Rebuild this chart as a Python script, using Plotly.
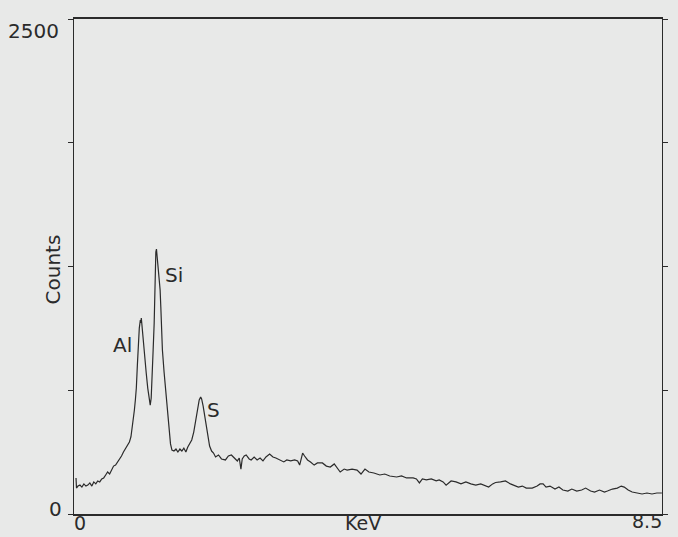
import plotly.graph_objects as go

# EDS spectrum (energy in keV, counts)
energy_kev = [
    0.029, 0.036, 0.057, 0.086, 0.114, 0.143, 0.172, 0.200, 0.229, 0.258,
    0.286, 0.315, 0.343, 0.372, 0.401, 0.429, 0.458, 0.486, 0.515, 0.544,
    0.572, 0.601, 0.629, 0.658, 0.687, 0.715, 0.744, 0.773, 0.801, 0.823,
    0.844, 0.858, 0.873, 0.887, 0.901, 0.916, 0.930, 0.944, 0.959, 0.966,
    0.973, 0.987, 1.001, 1.023, 1.044, 1.066, 1.087, 1.102, 1.116, 1.130,
    1.144, 1.159, 1.166, 1.173, 1.183, 1.192, 1.202, 1.216, 1.230, 1.245,
    1.255, 1.266, 1.278, 1.302, 1.326, 1.352, 1.373, 1.395, 1.416, 1.445,
    1.474, 1.502, 1.531, 1.559, 1.588, 1.617, 1.645, 1.674, 1.702, 1.731,
    1.760, 1.788, 1.810, 1.831, 1.845, 1.867, 1.888, 1.910, 1.931, 1.960,
    1.989, 2.017, 2.046, 2.089, 2.132, 2.189, 2.232, 2.275, 2.318, 2.361,
    2.389, 2.413, 2.432, 2.461, 2.489, 2.532, 2.561, 2.604, 2.647, 2.690,
    2.732, 2.775, 2.828, 2.876, 2.918, 2.947, 2.990, 3.033, 3.076, 3.133,
    3.190, 3.233, 3.262, 3.305, 3.333, 3.376, 3.419, 3.472, 3.519, 3.591,
    3.648, 3.705, 3.762, 3.805, 3.848, 3.906, 3.948, 4.020, 4.092, 4.149,
    4.206, 4.263, 4.335, 4.421, 4.492, 4.564, 4.664, 4.735, 4.807, 4.903,
    4.950, 4.993, 5.036, 5.093, 5.165, 5.236, 5.279, 5.336, 5.379, 5.451,
    5.522, 5.594, 5.665, 5.737, 5.808, 5.880, 5.951, 5.994, 6.052, 6.094,
    6.166, 6.237, 6.309, 6.381, 6.423, 6.481, 6.538, 6.624, 6.695, 6.738,
    6.781, 6.824, 6.881, 6.953, 7.010, 7.067, 7.139, 7.196, 7.268, 7.339,
    7.396, 7.468, 7.525, 7.597, 7.668, 7.711, 7.783, 7.854, 7.911, 7.954,
    8.011, 8.069, 8.140, 8.212, 8.283, 8.355, 8.426, 8.498,
]
counts = [
    182, 131, 141, 146, 136, 152, 141, 146, 157, 141,
    162, 152, 167, 162, 177, 182, 197, 212, 202, 222,
    242, 247, 263, 273, 293, 313, 328, 343, 364, 389,
    439, 475, 525, 576, 636, 752, 869, 939, 980, 965,
    990, 929, 879, 798, 712, 636, 576, 550, 586, 677,
    828, 965, 1081, 1217, 1323, 1338, 1303, 1252, 1212, 1131,
    1045, 929, 828, 717, 611, 505, 409, 354, 323, 318,
    328, 313, 328, 318, 333, 313, 338, 354, 374, 414,
    475, 535, 576, 591, 581, 545, 500, 439, 389, 343,
    318, 308, 288, 298, 278, 273, 293, 298, 283, 268,
    283, 227, 278, 293, 298, 278, 273, 288, 273, 283,
    268, 288, 303, 288, 283, 278, 268, 263, 273, 268,
    273, 268, 247, 308, 293, 273, 263, 247, 258, 258,
    242, 237, 253, 232, 212, 227, 222, 227, 222, 202,
    227, 212, 207, 197, 202, 192, 187, 192, 182, 182,
    177, 157, 177, 172, 177, 167, 172, 162, 146, 167,
    162, 152, 162, 152, 146, 152, 141, 136, 152, 159,
    162, 167, 152, 141, 136, 141, 131, 131, 141, 152,
    152, 136, 141, 126, 136, 121, 116, 126, 116, 121,
    131, 116, 111, 121, 111, 116, 126, 131, 141, 136,
    121, 111, 106, 101, 106, 101, 106, 106,
]

peak_labels = ["Al", "Si", "S"]
peak_label_kev = [0.70, 1.45, 2.01]
peak_label_counts = [855, 1205, 525]

y_ticks = [0, 625, 1250, 1875, 2500]
x_range = [0, 8.5]
y_range = [0, 2500]

ink = "#2b2b2b"
paper = "#e8e9e8"
font_family = "DejaVu Sans"
fs = 20
fs_bottom = 19

fig = go.Figure()
fig.add_trace(go.Scatter(
    x=energy_kev, y=counts, mode="lines",
    line=dict(color=ink, width=1.2), hoverinfo="skip", showlegend=False,
))

annotations = []
for t, xv, yv in zip(peak_labels, peak_label_kev, peak_label_counts):
    annotations.append(dict(x=xv, y=yv, xref="x", yref="y", text=t,
                            showarrow=False, font=dict(size=fs, color=ink)))

# axis tick labels and titles
annotations += [
    dict(x=0, y=2500, xref="paper", yref="y", text="2500", xanchor="right",
         yanchor="middle", xshift=-13, yshift=-12, showarrow=False,
         font=dict(size=fs, color=ink)),
    dict(x=0, y=0, xref="paper", yref="y", text="0", xanchor="right",
         yanchor="middle", xshift=-10, yshift=5, showarrow=False,
         font=dict(size=fs, color=ink)),
    dict(x=0, y=0, xref="x", yref="paper", text="0", xanchor="center",
         yanchor="bottom", xshift=6, yshift=-22, showarrow=False,
         font=dict(size=fs_bottom, color=ink)),
    dict(x=8.5, y=0, xref="x", yref="paper", text="8.5", xanchor="right",
         yanchor="bottom", xshift=2, yshift=-20, showarrow=False,
         font=dict(size=fs_bottom, color=ink)),
    dict(x=0.5, y=0, xref="paper", yref="paper", text="KeV", xanchor="center",
         yanchor="bottom", xshift=-5, yshift=-22, showarrow=False,
         font=dict(size=fs_bottom, color=ink)),
    dict(x=0, y=0.5, xref="paper", yref="paper", text="Counts", textangle=-90,
         xanchor="center", yanchor="middle", xshift=-22, yshift=-3,
         showarrow=False, font=dict(size=fs, color=ink)),
]

fig.update_layout(
    width=678, height=537,
    margin=dict(l=74, r=10, t=19, b=23),
    paper_bgcolor=paper, plot_bgcolor=paper,
    font=dict(family=font_family, color=ink),
    annotations=annotations,
    xaxis=dict(range=x_range, showgrid=False, zeroline=False,
               showline=True, linecolor=ink, linewidth=1.5, mirror=True,
               ticks="", showticklabels=False, fixedrange=True),
    yaxis=dict(range=y_range, showgrid=False, zeroline=False,
               showline=True, linecolor=ink, linewidth=1.3, mirror="ticks",
               tickvals=y_ticks, ticks="outside", ticklen=5, tickwidth=1.2,
               tickcolor=ink, showticklabels=False, fixedrange=True),
)

fig.write_html("out.html")
